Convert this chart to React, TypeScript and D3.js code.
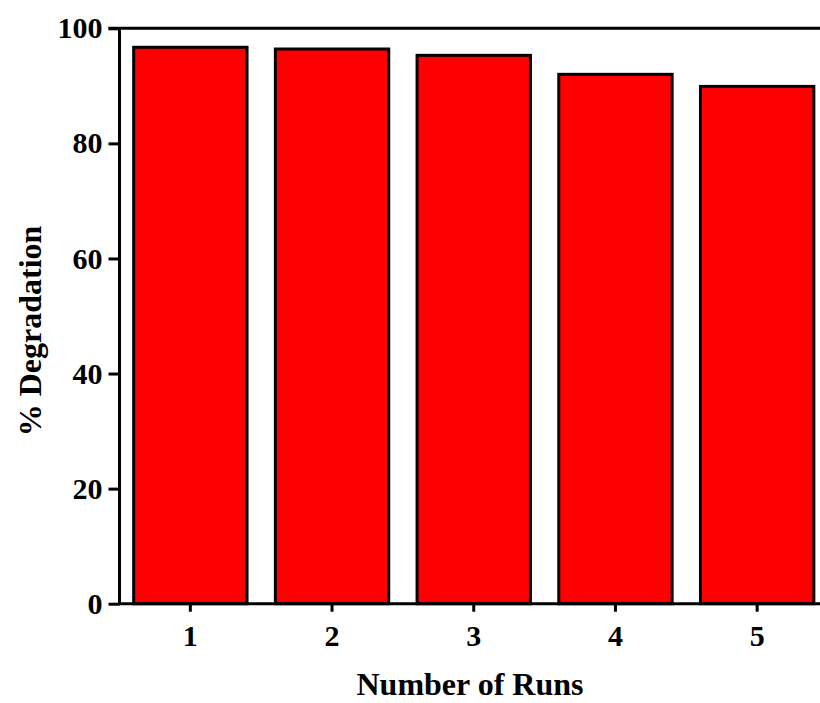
import { useEffect, useRef } from 'react'
import * as d3 from 'd3'

const runs = ['1', '2', '3', '4', '5']
const degradation = [96.7, 96.4, 95.3, 92.0, 89.9]
const yTicks = [0, 20, 40, 60, 80, 100]

const width = 820
const height = 703
const font = '"Times New Roman", "Liberation Serif", serif'

const App = () => {
  const ref = useRef<SVGSVGElement>(null)

  useEffect(() => {
    if (!ref.current) return
    const svg = d3.select(ref.current)
    svg.selectAll('*').remove()

    const left = 119.5
    const right = 828
    const top = 28.3
    const bottom = 603.7

    const x = d3.scaleBand<string>()
      .domain(runs)
      .range([left, right])
      .paddingInner(0.2)
      .paddingOuter(0.1)

    const y = d3.scaleLinear()
      .domain([0, 100])
      .range([bottom, top])

    // bars
    svg.append('g')
      .selectAll('rect')
      .data(degradation)
      .enter().append('rect')
      .attr('x', (d, i) => x(runs[i])!)
      .attr('y', d => y(d))
      .attr('width', x.bandwidth())
      .attr('height', d => y(0) - y(d))
      .attr('fill', '#ff0000')
      .attr('stroke', '#000')
      .attr('stroke-width', 3)

    // y axis
    const yAxis = svg.append('g')
      .attr('transform', `translate(${left},0)`)
      .call(d3.axisLeft(y).tickValues(yTicks).tickSize(11).tickPadding(6).tickFormat(d3.format('d')))
    yAxis.select('.domain').attr('stroke-width', 3).attr('d', `M0,${bottom}V${top}`)
    yAxis.selectAll('.tick line').attr('stroke-width', 3)
    yAxis.selectAll('.tick text')
      .style('font-family', font)
      .style('font-weight', 'bold')
      .style('font-size', '30px')
      .attr('fill', '#000')

    // x axis
    const xAxis = svg.append('g')
      .attr('transform', `translate(0,${bottom})`)
      .call(d3.axisBottom(x).tickSize(8).tickPadding(13))
    xAxis.select('.domain').attr('stroke-width', 3).attr('d', `M${left - 1.5},0H${width}`)
    xAxis.selectAll('.tick line').attr('stroke-width', 3)
    xAxis.selectAll('.tick text')
      .style('font-family', font)
      .style('font-weight', 'bold')
      .style('font-size', '30px')
      .attr('fill', '#000')

    // top frame line
    svg.append('line')
      .attr('x1', left - 11).attr('x2', width)
      .attr('y1', top).attr('y2', top)
      .attr('stroke', '#000')
      .attr('stroke-width', 3)

    // axis titles
    svg.append('text')
      .attr('x', 470)
      .attr('y', 695)
      .attr('text-anchor', 'middle')
      .style('font-family', font)
      .style('font-weight', 'bold')
      .style('font-size', '32px')
      .text('Number of Runs')

    svg.append('text')
      .attr('transform', 'translate(41,331) rotate(-90)')
      .attr('text-anchor', 'middle')
      .style('font-family', font)
      .style('font-weight', 'bold')
      .style('font-size', '32px')
      .text('% Degradation')
  }, [])

  return (
    <svg
      ref={ref}
      width={width}
      height={height}
      style={{ position: 'absolute', left: 0, top: 0, background: '#fff' }}
    />
  )
}

export default App
